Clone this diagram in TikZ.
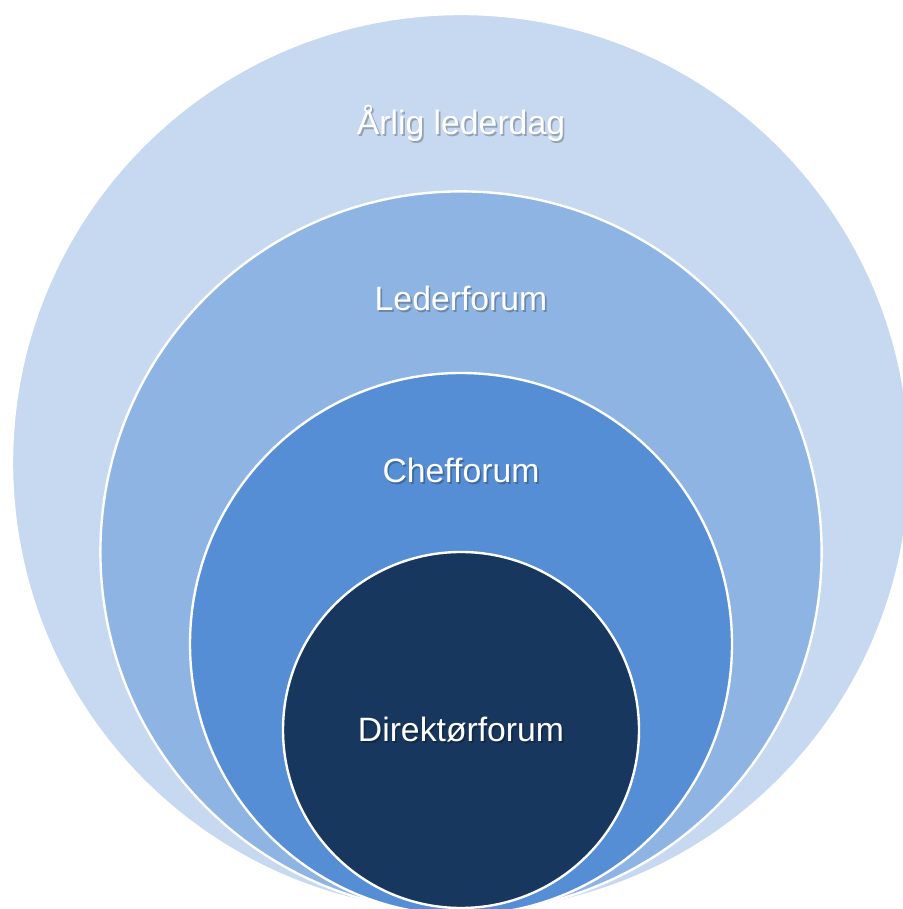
\documentclass[tikz,border=0pt]{standalone}
\usepackage{fontspec}
\setmainfont{Liberation Sans}
\usepackage{tikz}

\definecolor{ringA}{HTML}{C6D9F0}
\definecolor{ringB}{HTML}{8EB4E3}
\definecolor{ringC}{HTML}{558ED5}
\definecolor{ringD}{HTML}{17375E}

% white text with a soft drop shadow in a darker tone of the ring
\newcommand{\shadowed}[2]{\leavevmode\rlap{\hspace{1.2pt}\raisebox{-1.2pt}{\textcolor{#1!75!black}{#2}}}#2}

\tikzset{
  ring/.style={circle, draw=white, line width=1.7pt, inner sep=0pt},
  lbl/.style={anchor=base, text=white, font=\fontsize{24}{28}\selectfont}
}

\begin{document}
\begin{tikzpicture}
    \useasboundingbox (0,0) rectangle (22.55,22.725);

    % Rings
    \node[ring, fill=ringA, minimum size=22.45cm] (lederdag) at (11.525,11.15) {};
    \node[ring, fill=ringB, minimum size=18.03cm] (leder) at (11.525,8.925) {};
    \node[ring, fill=ringC, minimum size=13.55cm] (chef) at (11.525,6.625) {};
    \node[ring, fill=ringD, minimum size=8.9cm] (direktor) at (11.525,4.475) {};

    % Labels
    \node[lbl] (lederdagtxt) at (11.525,19.35) {\shadowed{ringA}{Årlig lederdag}};
    \node[lbl] (ledertxt) at (11.525,14.95) {\shadowed{ringB}{Lederforum}};
    \node[lbl] (cheftxt) at (11.525,10.65) {\shadowed{ringC}{Chefforum}};
    \node[lbl] (direktortxt) at (11.525,4.175) {\shadowed{ringD}{Direktørforum}};
\end{tikzpicture}
\end{document}
